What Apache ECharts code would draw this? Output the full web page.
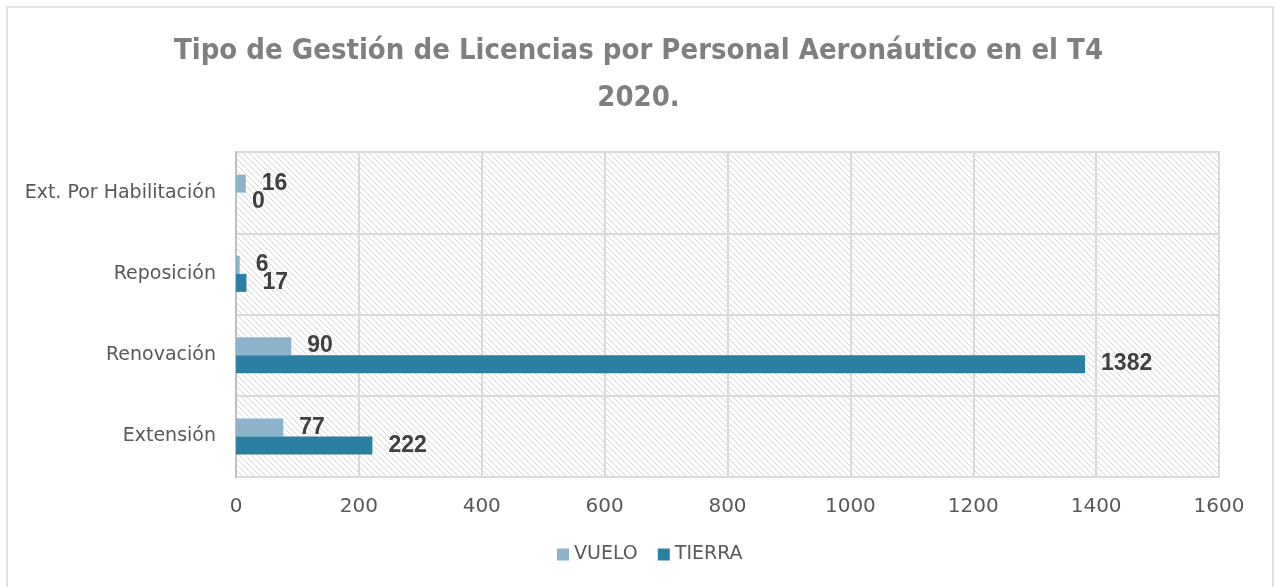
<!DOCTYPE html>
<html>
<head>
<meta charset="utf-8">
<script src="https://cdn.jsdelivr.net/npm/echarts@6/dist/echarts.min.js"></script>
<style>
html,body{margin:0;padding:0;background:#fff;}
#chart{width:1277px;height:587px;}
</style>
</head>
<body>
<div id="chart"></div>
<script>
var categories = ['Extensión', 'Renovación', 'Reposición', 'Ext. Por Habilitación'];
var vuelo = [77, 90, 6, 16];
var tierra = [222, 1382, 17, 0];
var xTicks = [0, 200, 400, 600, 800, 1000, 1200, 1400, 1600];

// diagonal hatch for the plot area
var hatch = document.createElement('canvas');
hatch.width = 6; hatch.height = 6;
var hc = hatch.getContext('2d');
hc.fillStyle = '#ffffff';
hc.fillRect(0, 0, 6, 6);
hc.strokeStyle = '#d6d6d6';
hc.lineWidth = 1;
hc.beginPath();
hc.moveTo(-1, -1); hc.lineTo(7, 7);
hc.moveTo(-1, 5); hc.lineTo(1, 7);
hc.moveTo(5, -1); hc.lineTo(7, 1);
hc.stroke();

var labelStyle = {
  show: true,
  position: 'right',
  distance: 16,
  color: '#404040',
  fontFamily: 'Liberation Sans',
  fontWeight: 'bold',
  fontSize: 23
};

var myChart = echarts.init(document.getElementById('chart'));
var option = {
  backgroundColor: '#fff',
  animation: false,
  title: {
    text: 'Tipo de Gestión de Licencias por Personal Aeronáutico en el T4\n2020.',
    left: 'center',
    top: 23,
    textStyle: {
      color: '#7f7f7f',
      fontFamily: '"Liberation Sans Narrow", "DejaVu Sans Condensed", sans-serif',
      fontWeight: 'bold',
      fontSize: 29,
      lineHeight: 47
    }
  },
  graphic: [{
    type: 'rect',
    shape: {x: 7, y: 7, width: 1266, height: 582},
    style: {fill: 'none', stroke: '#d9d9d9', lineWidth: 1.5},
    silent: true
  }],
  legend: {
    bottom: 18,
    left: 552,
    data: ['VUELO', 'TIERRA'],
    itemWidth: 12,
    itemHeight: 12,
    itemGap: 20,
    icon: 'rect',
    textStyle: {color: '#595959', fontFamily: 'DejaVu Sans', fontSize: 19}
  },
  grid: {
    left: 236,
    right: 58,
    top: 152,
    bottom: 110,
    show: true,
    backgroundColor: {image: hatch, repeat: 'repeat'},
    borderColor: '#d9d9d9',
    borderWidth: 2
  },
  xAxis: {
    type: 'value',
    min: 0,
    max: 1600,
    interval: 200,
    axisLine: {show: false},
    axisTick: {show: false},
    splitLine: {lineStyle: {color: '#d9d9d9', width: 2}},
    axisLabel: {
      color: '#595959', fontFamily: 'DejaVu Sans', fontSize: 20, margin: 20,
      formatter: function (v) { return xTicks.indexOf(v) >= 0 ? String(v) : ''; }
    }
  },
  yAxis: {
    type: 'category',
    data: categories,
    axisLine: {lineStyle: {color: '#bfbfbf', width: 2}},
    axisTick: {show: false},
    splitLine: {show: true, lineStyle: {color: '#d9d9d9', width: 2}},
    axisLabel: {color: '#595959', fontFamily: 'DejaVu Sans', fontSize: 19, margin: 20}
  },
  series: [
    {
      name: 'VUELO',
      type: 'bar',
      data: vuelo,
      barWidth: 18,
      barGap: '0%',
      itemStyle: {color: '#8db3cb'},
      label: labelStyle
    },
    {
      name: 'TIERRA',
      type: 'bar',
      data: tierra,
      barWidth: 18,
      barGap: '0%',
      itemStyle: {color: '#2b7fa2'},
      label: labelStyle
    }
  ]
};
myChart.setOption(option);
</script>
</body>
</html>
